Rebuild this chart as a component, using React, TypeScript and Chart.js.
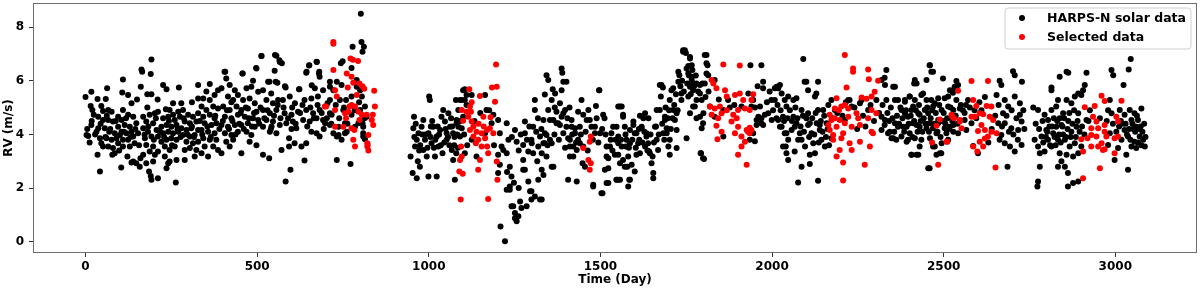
import React, { useEffect, useRef } from "react";
import { Chart, registerables } from "chart.js";

Chart.register(...registerables);

type P = [number, number];

// ---- HARPS-N solar data (day, RV m/s), by observing season ----
const harpsSeason1: P[] = [
  [0,5.4],[17,5.59],[35,5.32],[15,5.06],[20,4.91],[24,4.73],[17,4.35],[3,3.98],[8,3.94],[37,4.23],[32,4.1],[42,3.86],[46,3.67],[51,3.55],[35,3.24],[42,2.62],[37,4.66],[51,4.54],[46,5.06],[51,4.87],
  [63,5.72],[59,5.32],[66,4.91],[76,4.85],[66,4.54],[80,4.48],[56,4.23],[69,4.1],[85,4.04],[61,3.86],[76,3.8],[90,3.86],[66,3.55],[80,3.49],[78,3.24],[85,3.3],[95,4.66],[95,4.29],[100,3.98],[95,3.67],
  [109,6.05],[107,5.56],[124,5.47],[134,5.16],[109,4.91],[124,4.73],[139,4.66],[105,4.54],[114,4.35],[129,4.29],[148,4.42],[105,4.1],[119,4.04],[134,4.1],[109,3.8],[124,3.8],[139,3.92],[153,4.04],[109,3.55],[129,3.55],[143,3.67],[122,3.18],[134,2.95],[139,2.99],[104,2.77],[148,2.93],[158,2.8],[160,3.11],
  [163,6.42],[165,6.34],[192,6.79],[190,6.25],[161,5.78],[180,5.5],[192,5.5],[180,5.0],[168,4.66],[187,4.73],[202,4.79],[211,4.85],[177,4.48],[197,4.42],[168,4.23],[182,4.1],[207,4.17],[192,3.92],[173,3.86],[211,3.92],[177,3.61],[197,3.55],[187,3.36],[168,3.24],[202,3.24],[211,3.36],[177,2.93],[185,2.62],[192,2.31],[211,2.37],[197,2.99],[190,2.45],
  [226,5.84],[236,5.68],[272,5.75],[234,4.94],[245,4.91],[255,4.73],[270,4.85],[226,4.6],[241,4.66],[260,4.54],[275,4.66],[221,4.29],[236,4.35],[250,4.29],[265,4.35],[226,4.04],[241,4.1],[255,4.04],[270,4.1],[221,3.73],[236,3.8],[250,3.86],[265,3.8],[231,3.55],[245,3.42],[260,3.55],[231,3.18],[245,2.99],[236,2.74],[241,2.93],[265,3.05],[263,2.21],[255,5.16],
  [289,3.05],[289,3.42],[279,5.16],[284,4.91],[299,4.73],[313,4.66],[328,4.79],[289,4.48],[304,4.42],[323,4.48],[279,4.23],[294,4.17],[308,4.23],[328,4.17],[284,3.98],[304,3.92],[318,3.98],[294,3.73],[313,3.67],[328,3.73],[304,3.49],[323,3.42],[328,5.84],[328,5.34],[318,3.18],
  [362,5.88],[352,5.6],[343,5.34],[362,5.28],[376,5.47],[386,5.65],[338,5.04],[352,4.91],[372,5.04],[386,4.97],[343,4.66],[362,4.73],[376,4.6],[347,4.42],[367,4.35],[381,4.42],[338,4.17],[357,4.1],[376,4.04],[343,3.86],[362,3.8],[381,3.8],[338,3.3],[357,3.18],[372,3.55],[386,3.42],[347,3.55],
  [405,6.34],[410,6.09],[396,5.72],[420,5.84],[435,5.65],[415,5.41],[430,5.28],[444,5.47],[401,5.04],[420,4.91],[440,5.04],[406,4.66],[425,4.6],[444,4.73],[396,4.35],[415,4.29],[435,4.35],[406,4.04],[425,3.98],[444,4.1],[410,3.73],[430,3.8],[396,3.3],[420,3.55],
  [457,6.27],[488,6.0],[498,6.46],[469,5.72],[483,5.78],[503,5.59],[459,5.28],[478,5.34],[493,5.16],[454,4.91],[473,4.97],[498,4.85],[464,4.66],[488,4.6],[503,4.54],[454,4.35],[473,4.42],[493,4.29],[469,4.1],[483,3.98],[454,3.3],[498,3.6],[478,3.73],
  [512,6.92],[556,6.93],[566,6.7],[551,6.37],[532,5.96],[554,5.96],[517,5.65],[541,5.53],[527,5.28],[546,5.16],[561,5.28],[517,4.91],[537,4.79],[556,4.91],[527,4.54],[546,4.48],[517,4.29],[566,4.35],[537,4.1],[517,3.24],[535,3.11],[556,4.04],
  [583,5.75],[622,5.68],[575,5.28],[595,5.41],[610,5.16],[580,4.79],[600,4.73],[619,4.85],[585,4.42],[604,4.48],[571,3.42],[593,3.55],[593,3.86],[583,2.25],[597,2.68],[614,4.23],[609,3.67],
  [651,6.57],[674,6.7],[680,6.27],[682,6.15],[643,6.3],[668,5.72],[692,5.65],[638,5.28],[658,5.34],[677,5.41],[643,4.91],[663,4.79],[682,4.91],[634,4.54],[653,4.48],[673,4.6],[692,4.54],[629,3.55],[643,3.67],[638,3.03],[673,4.04],[682,3.92],[658,4.1],
  [705,5.16],[712,4.79],[698,4.42],[722,4.04],[732,3.92],[732,3.05],[772,2.9],[741,5.28],[751,4.91],[759,5.28],[737,4.29],[746,3.8],[756,4.04],[800,4.91],[805,5.41],[807,4.42],[809,3.92],[785,4.29],[775,4.73],[722,5.65],[712,5.78],[732,5.96],[775,5.41],[790,5.78],[746,5.84],
  [802,8.5],[804,7.45],[811,7.27],[807,7.08],[778,7.27],[749,6.73],[744,6.65],[775,6.48],[673,6.71],[652,6.58],[681,6.34],[644,6.34],[552,6.96],[565,6.77],[572,6.65],[513,6.92],[497,6.48],[407,6.34],[458,6.27],[536,5.96],[559,5.93],[581,5.8],[623,5.68],[659,5.83],[712,5.96],
  [712,5.28],[717,4.73],[712,4.35],[737,3.98],[756,4.42],[761,4.1],[795,4.42],[814,5.04],[809,4.29],[809,4.04],[814,3.82],[819,4.66],[790,6.03],[800,5.65],
  [5,4.2],[12,3.7],[28,4.0],[44,4.4],[58,3.9],[72,4.2],[88,4.5],[98,3.4],[112,4.1],[118,4.6],[131,3.9],[145,4.2],[156,3.6],[172,4.0],[183,4.3],[199,3.8],[205,4.6],[217,4.1],[229,3.9],[243,4.5],[252,3.6],[268,4.2],[277,3.9],[286,4.6],[297,4.0],[310,4.3],[316,3.9],[333,4.5],[340,4.0],[355,4.3],[365,3.9],[378,4.7],[390,4.2],[400,4.5],[412,4.9],[418,4.2],[428,4.5],[437,4.0],[448,4.4],[452,4.8],[461,4.2],[467,5.0],[476,4.6],[485,4.3],[491,4.8],[506,4.4],[510,5.0],[521,4.6],[530,4.9],[542,4.3],[549,4.7],[560,5.1],[568,4.6],[577,5.0],[590,4.6],[602,5.0],[612,4.4],[625,4.8],[632,5.1],[646,4.3],[655,5.0],[665,4.6],[676,5.1],[688,4.8],[694,4.2],[703,4.6],[716,4.4],[729,5.1],[739,4.6],[753,5.0],[763,4.4],[784,4.9],[797,5.2],[813,4.6],[18,4.5],[62,4.7],[150,5.3],[210,5.3],[310,5.2],[425,5.2],[540,4.2],[600,4.2]
];

const harpsSeason2: P[] = [
  [947,3.18],[953,2.56],[965,2.37],[957,4.66],[960,3.55],[955,4.23],[970,4.04],[965,3.8],[974,2.8],[979,4.29],[984,4.54],[989,3.8],[984,3.42],[994,3.18],[999,4.04],[1001,5.41],[1003,5.28],[999,2.43],[1008,3.67],[1013,4.29],[1018,3.18],[1023,2.43],[1023,3.92],[1028,3.55],[1033,4.17],[1037,4.66],[1042,4.91],[1047,4.48],[1052,4.04],[1052,3.8],[1057,4.79],[1062,4.29],[1067,3.42],[1071,3.05],[1076,2.31],[1071,4.04],[1079,5.28],[1081,4.54],[1086,4.29],[1091,5.28],[1091,3.92],[1100,5.65],[1110,5.47],[1105,5.28],[1096,5.28],[1105,5.68],[1125,5.47],[1110,5.1],[1164,5.47],[1168,4.91],[1086,4.91],[1100,4.66],[1081,4.42],[1096,4.23],[1139,3.18],[1105,3.3],[1125,3.8],[1164,4.04],[1183,4.42],[1188,4.73],
  [962,4.4],[975,3.6],[990,4.0],[1005,3.9],[1015,3.5],[1030,4.0],[1045,3.7],[1060,3.6],[1075,3.9],[1085,3.5],[968,3.0],[1010,4.5],[1040,3.3],[1065,4.6],[1080,3.3],
  [1202,4.54],[1207,4.04],[1212,3.55],[1202,3.24],[1207,2.87],[1202,2.56],[1227,4.42],[1232,3.8],[1227,3.3],[1236,2.8],[1241,2.43],[1236,1.94],[1209,0.57],[1222,0.02],[1246,1.32],[1251,0.88],[1256,0.76],[1261,0.95],[1266,1.5],[1270,1.26],[1251,1.07],[1280,4.48],[1280,4.04],[1275,3.61],[1275,3.05],[1280,2.68],[1290,2.25],[1299,1.88],[1299,1.57],[1309,1.69],[1324,1.57],[1285,1.32],[1309,5.28],[1309,4.91],[1304,4.29],[1299,3.8],[1319,3.55],[1304,3.3],[1329,2.68],[1319,2.31],[1334,4.54],[1338,4.04],[1338,3.67],[1329,3.3],[1348,4.91],[1343,6.21],[1348,6.03],[1361,5.68],[1368,5.53],[1358,5.28],[1363,4.54],[1353,3.8],[1358,2.8],[1372,4.85],[1377,4.42],[1387,6.46],[1389,6.3],[1392,5.96],[1401,5.96],[1387,5.65],[1382,5.16],[1387,4.66],[1397,4.91],[1392,4.04],[1406,3.86],[1401,4.29],[1416,4.54],[1411,3.55],[1421,3.18],[1431,2.25],[1426,4.04],[1435,3.8],[1440,4.29],[1445,5.28],[1450,4.73],[1450,3.55],[1435,4.85],[1460,4.54],[1465,4.91],[1469,4.54],[1474,4.29],[1455,2.8],[1479,2.06],[1484,4.04],[1489,4.6],[1496,5.65],[1503,1.81],[1513,2.68],[1518,3.18],[1523,2.19],[1528,3.55],[1532,4.04],[1537,4.29],[1547,2.31],[1552,5.04],[1552,3.67],
  [1217,3.42],[1251,4.17],[1256,3.73],[1275,2.68],[1290,3.36],[1300,3.67],[1324,3.92],[1334,3.67],[1343,3.98],[1338,5.49],[1353,4.54],[1372,4.42],[1382,4.35],[1392,4.79],[1411,3.8],[1416,4.29],[1426,4.23],[1421,3.55],[1411,3.18],[1431,3.42],[1440,3.67],[1448,2.93],[1406,2.31],[1363,2.8],[1343,3.18],[1334,2.49],[1329,1.57],[1358,3.67],[1227,1.94],[1241,1.32],[1236,2.06],[1295,1.88],
  [958,3.9],[972,3.4],[981,4.0],[996,3.5],[1006,4.3],[1019,3.8],[1026,4.3],[1035,3.6],[1049,4.2],[1056,3.9],[1068,4.3],[1074,3.6],[1083,4.0],[1092,4.5],[1103,4.0],[1112,3.6],[1133,4.5],[1150,4.8],[1176,4.9],[1190,3.6],[1242,3.9],[1262,3.4],[1268,4.0],[1286,3.8],[1293,4.3],[1313,4.1],[1316,3.0],[1328,4.2],[1346,3.6],[1366,4.0],[1379,3.8],[1397,3.5],[1404,4.6],[1418,4.0],[1429,3.7],[1443,4.0],[1457,4.1],[1463,3.4],[1478,3.8],[1494,3.7],[1505,4.2],[1515,4.0],[1535,3.4],[1544,3.8],[1318,4.6],[1367,5.0],[1410,5.0],[1228,2.6],[1248,2.2],[1262,2.0]
];

const harpsSeason3: P[] = [
  [1479,2.12],[1506,1.81],[1497,5.65],[1487,5.06],[1484,4.29],[1499,4.04],[1508,4.73],[1512,4.6],[1518,3.55],[1523,3.11],[1523,2.74],[1518,2.19],[1530,3.8],[1542,3.24],[1547,2.31],[1557,2.31],[1566,4.66],[1562,5.04],[1571,4.29],[1574,3.55],[1566,3.05],[1578,2.8],[1584,2.31],[1581,2.06],[1586,3.67],[1596,4.35],[1600,4.04],[1605,3.24],[1613,3.8],[1620,4.23],[1625,4.6],[1630,3.55],[1634,3.92],[1642,3.36],[1652,3.18],[1664,4.91],[1673,5.84],[1676,5.41],[1688,4.54],[1693,4.23],[1683,4.04],[1702,3.8],[1702,3.24],[1712,5.72],[1722,4.79],[1730,6.21],[1736,5.53],[1741,7.14],[1749,7.04],[1751,6.46],[1756,6.55],[1761,6.83],[1766,6.15],[1770,5.9],[1761,5.78],[1756,5.41],[1751,3.86],[1761,4.79],[1770,5.04],[1780,5.28],[1790,4.66],[1792,3.3],[1799,3.11],[1809,6.96],[1809,6.65],[1814,6.21],[1804,5.9],[1790,5.53],[1780,5.9],
  [1557,5.04],[1566,4.73],[1547,4.29],[1552,3.92],[1562,3.55],[1552,3.24],[1557,2.93],[1552,2.31],[1586,2.31],[1571,2.8],[1581,3.18],[1591,2.87],[1600,2.62],[1576,3.8],[1586,4.17],[1596,4.48],[1605,4.04],[1610,3.67],[1615,3.3],[1620,4.29],[1630,4.79],[1634,4.04],[1639,3.67],[1644,3.3],[1649,2.93],[1654,2.56],[1654,2.37],[1659,4.29],[1664,3.8],[1668,3.42],[1673,4.91],[1678,5.84],[1682,5.75],[1688,4.66],[1693,4.04],[1698,3.55],[1702,5.28],[1707,5.65],[1712,4.91],[1717,4.54],[1722,4.17],[1722,3.49],[1727,5.96],[1727,6.34],[1736,5.28],[1741,7.08],[1746,7.14],[1756,6.27],[1761,6.89],[1766,6.58],[1766,6.03],[1770,5.65],[1775,5.04],[1780,4.6],[1790,5.84],[1795,5.28],[1800,4.79],[1793,3.3],[1802,3.08],[1804,6.96],[1812,6.58],[1809,6.27],[1795,4.23],
  [1833,6.03],[1819,5.04],[1833,4.66],[1858,4.91],[1872,5.28],[1931,5.53],[1940,5.04],[1960,4.66],[1955,4.35],[1945,4.04],[1969,4.42],[1979,4.73],[1911,5.04],[1799,4.42],[1858,3.92],[1937,6.58],[1969,6.58],[1974,5.96],[1945,5.28],[1965,5.04],[1969,4.6],[1955,4.54],[1974,4.35],[1935,3.8],[1950,3.75],
  [1998,5.28],[2008,5.72],[2013,5.78],[2023,5.84],[2028,5.53],[2037,5.28],[2042,5.04],[2032,4.66],[2042,4.04],[2040,3.55],[2023,4.29],[2013,4.6],[1974,5.72],[1989,4.79],[1999,4.54],[2008,5.28],[2018,5.72],[2047,5.41],[2062,5.28],[2071,5.35],[2086,4.91],[2091,6.81],[2100,5.96],[2105,5.65],[2125,5.41],[2134,5.96],[2149,4.91],[2164,5.1],[2018,4.54],[2028,4.29],[2037,4.04],[2047,3.8],[2032,3.55],[2042,3.3],[2047,3.05],[2057,4.17],[2071,4.42],[2081,4.04],[2086,3.8],[2096,3.55],[2105,4.35],[2115,4.04],[2120,3.67],[2125,3.3],[2110,3.24],[2130,4.42],[2139,4.17],[2144,3.8],[2154,3.55],[2076,2.21],[2134,2.27],[2110,2.9],[2086,2.8],[2066,3.36],[2062,4.66],[2066,4.29],[2076,3.8],[2095,5.96],[2105,4.79],[2110,4.42],[2129,5.53],[2134,4.91],[2139,4.35],[2159,4.42],[2173,3.86],
  [1560,3.8],[1573,4.0],[1583,3.5],[1593,3.8],[1603,3.5],[1612,4.2],[1622,3.7],[1628,4.1],[1637,3.4],[1646,4.0],[1656,3.7],[1662,4.3],[1670,4.0],[1680,4.4],[1686,3.8],[1696,4.6],[1705,4.2],[1710,4.6],[1715,5.1],[1720,5.5],[1725,4.9],[1733,5.8],[1738,6.0],[1743,5.6],[1753,5.9],[1758,6.2],[1763,5.5],[1768,6.4],[1773,5.8],[1778,6.2],[1785,5.6],[1797,5.9],[1806,5.4],[1815,5.6],[1845,5.3],[1877,5.0],[1890,5.1],[1950,5.0],[1958,5.8],[1985,5.2],[1993,5.6],[2003,4.9],[2016,5.1],[2025,4.9],[2035,4.5],[2045,4.6],[2052,4.9],[2058,4.5],[2068,5.0],[2074,4.6],[2083,4.3],[2090,4.7],[2093,4.1],[2100,4.6],[2108,3.9],[2117,4.6],[2123,4.0],[2127,4.8],[2136,3.7],[2142,4.5],[2147,4.1],[2152,4.7],[2157,3.9],[2162,4.2],[2166,3.6],[1640,4.6],[1615,4.7],[1690,5.0],[1700,4.9]
];

const harpsSeason4: P[] = [
  [2173,5.28],[2183,4.91],[2222,5.28],[2212,4.54],[2232,5.04],[2261,5.28],[2280,4.91],[2304,5.28],[2319,6.03],[2333,6.4],[2329,5.84],[2358,5.78],[2367,5.28],[2377,4.91],[2387,5.28],[2396,4.66],[2319,4.17],[2338,4.04],[2348,3.86],[2367,4.29],[2377,3.92],[2392,3.73],[2329,4.54],[2358,4.42],[2226,5.28],[2256,5.16],[2328,6.11],[2353,5.78],[2358,5.28],[2333,5.28],[2319,4.66],[2328,4.35],[2343,4.1],[2353,3.86],[2362,3.8],[2382,4.29],[2387,5.22],[2401,5.41],[2416,6.03],[2421,5.9],[2411,5.04],[2430,4.73],[2421,4.35],[2401,4.04],[2406,3.24],[2421,3.24],[2430,3.55],[2440,5.53],[2450,5.28],[2459,6.58],[2469,6.34],[2450,6.03],[2455,4.79],[2459,4.42],[2459,2.74],[2474,5.16],[2484,4.54],[2479,4.04],[2493,3.3],[2498,6.09],[2503,5.35],[2469,3.55],[2518,5.65],[2532,5.72],[2537,5.28],[2528,4.91],[2518,4.29],[2528,4.1],[2547,4.97],[2561,4.8],[2508,4.04],[2566,4.17],[2571,5.28],
  [2464,6.34],[2460,6.58],[2414,5.9],[2537,5.99],[2542,5.84],[2401,5.41],[2416,5.28],[2435,5.47],[2464,5.28],[2484,5.35],[2513,5.41],[2532,5.78],[2527,5.55],[2387,4.79],[2406,4.91],[2426,4.79],[2445,4.91],[2469,5.04],[2494,4.91],[2513,5.04],[2392,4.29],[2411,4.42],[2430,4.29],[2450,4.23],[2469,4.23],[2484,4.42],[2503,4.23],[2528,4.35],[2396,3.8],[2416,3.86],[2435,3.8],[2460,3.86],[2474,3.55],[2494,3.67],[2406,3.24],[2426,3.24],[2479,3.24],[2489,3.3],[2455,2.74],[2513,3.8],[2542,4.04],[2561,4.54],[2581,4.42],[2586,3.57],[2600,3.3],
  [2663,6.0],[2668,5.84],[2702,6.36],[2707,6.21],[2728,5.96],[2654,5.47],[2678,5.28],[2688,5.04],[2673,4.79],[2707,5.41],[2722,5.16],[2722,4.73],[2727,4.48],[2659,4.42],[2678,4.42],[2697,4.23],[2668,3.98],[2663,3.8],[2678,3.67],[2693,3.55],[2707,3.36],[2727,3.61],[2686,2.8],[2717,4.17],[2610,4.9],[2620,5.4],[2640,4.2],[2595,4.6],[2630,3.7],
  [2176,4.6],[2190,4.8],[2205,4.7],[2215,5.2],[2240,5.0],[2248,4.2],[2265,4.7],[2272,4.3],[2287,5.1],[2297,4.5],[2312,4.8],[2322,5.1],[2336,4.8],[2341,4.5],[2346,5.0],[2351,4.6],[2356,4.1],[2364,4.7],[2370,4.4],[2374,5.0],[2380,4.6],[2385,4.1],[2390,4.9],[2398,4.4],[2404,4.7],[2409,3.9],[2414,4.5],[2419,4.9],[2424,4.1],[2428,5.1],[2433,4.5],[2438,4.1],[2442,4.6],[2447,4.4],[2452,5.0],[2457,4.1],[2462,4.6],[2467,4.9],[2472,4.4],[2477,4.8],[2482,4.1],[2487,5.1],[2491,3.9],[2496,4.5],[2500,4.8],[2505,4.4],[2510,4.6],[2515,4.2],[2520,5.0],[2525,4.5],[2535,4.7],[2540,4.4],[2550,5.1],[2556,4.9],[2565,5.1],[2576,5.0],[2590,4.9],[2604,5.2],[2650,4.7],[2660,5.1],[2670,4.3],[2683,4.7],[2690,4.1],[2698,4.9],[2703,4.0],[2712,4.6],[2716,3.8],[2732,4.9],[2735,4.2]
];

const harpsSeason5: P[] = [
  [2761,5.0],[2775,4.91],[2765,3.8],[2775,3.55],[2785,3.92],[2780,3.3],[2780,2.8],[2775,2.25],[2773,2.06],[2794,4.73],[2804,4.54],[2814,5.75],[2814,5.65],[2814,4.91],[2799,4.17],[2804,3.8],[2794,3.36],[2814,3.55],[2819,4.04],[2833,5.28],[2828,5.04],[2838,6.15],[2858,6.34],[2863,6.3],[2828,4.29],[2833,3.8],[2838,3.3],[2833,2.8],[2843,3.0],[2853,2.8],[2862,2.56],[2862,2.06],[2877,2.19],[2892,2.25],[2843,4.35],[2848,4.79],[2858,5.28],[2872,5.16],[2882,5.41],[2892,5.53],[2901,5.47],[2906,5.65],[2911,5.84],[2916,6.3],[2853,3.8],[2867,3.55],[2872,4.1],[2882,3.67],[2892,3.3],[2901,3.55],[2877,3.18],[2858,3.24],[2887,4.29],[2892,4.79],[2916,4.54],[2808,4.3],[2823,3.9],[2848,4.0],[2838,4.6],[2863,4.5],
  [2989,6.4],[2994,6.21],[2979,4.9],[2989,4.79],[2984,5.28],[3024,5.84],[3039,6.42],[3045,6.81],[3013,4.91],[3027,4.73],[3042,4.91],[3056,4.79],[3076,4.97],[3047,4.54],[3066,4.54],[3061,4.29],[3027,4.17],[3018,3.8],[3037,3.92],[3056,3.73],[3071,3.92],[3081,3.8],[3086,3.55],[3061,3.49],[3047,3.55],[3032,3.24],[3037,2.68],[3008,3.49],[2979,3.61],[2998,3.05],[2984,4.04],[3052,4.2],[3066,3.7],[3076,3.6],
  [2768,4.4],[2778,4.2],[2788,4.5],[2790,3.7],[2798,3.9],[2802,4.1],[2810,3.6],[2816,4.3],[2821,4.6],[2826,3.6],[2831,4.5],[2836,4.0],[2841,3.7],[2846,4.3],[2851,4.6],[2856,3.9],[2861,4.2],[2866,4.8],[2870,3.9],[2875,4.4],[2880,4.9],[2885,3.9],[2890,4.5],[2896,4.1],[2903,4.3],[2910,4.0],[2922,4.5],[2926,4.9],[2955,4.6],[2975,4.5],[2993,4.4],[3003,4.1],[3011,4.3],[3016,4.5],[3022,4.4],[3030,4.4],[3034,4.0],[3040,4.2],[3044,3.8],[3050,4.4],[3058,4.1],[3063,4.7],[3069,4.2],[3074,4.3],[3079,4.1],[3084,4.4],[3088,3.9]
];

// ---- Selected data (red) ----
const selected1: P[] = [
  [697,5.04],[722,7.45],[722,7.38],[722,6.4],[727,5.65],[701,5.04],[727,4.29],[761,6.27],[772,6.83],[779,6.78],[794,6.74],[764,5.75],[780,5.93],[798,5.9],[807,5.8],[841,5.63],[812,5.7],[769,5.04],[775,5.1],[785,5.04],[795,4.85],[805,4.73],[819,4.73],[843,5.04],[837,4.73],[834,4.54],[838,4.35],[824,3.98],[821,3.67],[821,3.55],[780,3.8],[785,3.55],[775,4.23],[798,4.54],[759,4.6],[766,4.85],[727,4.91],[822,3.61],[824,3.4],[783,4.17],[751,4.29],[756,4.79],[775,6.15],[790,5.47],[732,5.41]
];
const selected2: P[] = [
  [1118,5.68],[1149,5.43],[1184,5.75],[1198,5.78],[1196,6.61],[1193,5.22],[1096,4.91],[1120,5.04],[1123,4.85],[1115,4.66],[1100,4.51],[1125,4.48],[1159,4.66],[1180,4.64],[1120,4.17],[1139,4.1],[1154,4.04],[1170,4.17],[1178,4.23],[1188,4.04],[1130,3.92],[1144,3.8],[1164,3.86],[1137,3.67],[1154,3.55],[1170,3.55],[1173,3.3],[1149,3.05],[1144,2.68],[1094,3.55],[1096,3.18],[1091,3.05],[1089,2.62],[1099,2.53],[1198,2.99],[1200,2.31],[1093,1.57],[1173,1.59],[1110,4.85],[1130,4.3],[1160,4.3],[1145,4.4],[1125,5.2]
];
const selected3: P[] = [[1472,3.92],[1469,3.73],[1450,3.49],[1465,3.05],[1472,2.93],[1469,2.68]];
const selected4: P[] = [
  [1858,6.61],[1906,6.57],[1824,6.03],[1829,5.9],[1838,5.72],[1863,5.65],[1868,5.41],[1892,5.47],[1906,5.53],[1916,5.28],[1945,5.5],[1819,5.04],[1833,4.97],[1848,5.04],[1853,4.79],[1868,4.9],[1887,4.73],[1901,4.91],[1921,4.97],[1935,4.91],[1940,5.28],[1824,4.73],[1843,4.6],[1882,4.48],[1897,4.6],[1901,4.29],[1926,4.17],[1935,4.04],[1940,4.17],[1838,4.32],[1853,4.1],[1892,4.04],[1911,3.92],[1921,3.73],[1911,3.55],[1901,3.24],[1841,3.82],[1926,2.87],[1930,4.1],[1935,4.25]
];
const selected5: P[] = [
  [2212,6.96],[2236,6.46],[2236,6.34],[2280,6.42],[2282,6.06],[2309,6.0],[2217,5.75],[2188,5.35],[2202,5.04],[2183,4.97],[2212,5.1],[2261,5.38],[2275,5.33],[2290,5.41],[2299,5.59],[2168,4.73],[2183,4.6],[2197,4.54],[2222,4.66],[2246,4.79],[2251,4.6],[2290,4.91],[2304,4.79],[2164,4.35],[2188,4.29],[2212,4.42],[2232,4.29],[2256,4.35],[2280,4.6],[2168,4.17],[2178,3.98],[2207,4.04],[2290,4.1],[2294,4.04],[2202,3.86],[2178,3.8],[2226,3.67],[2256,3.73],[2285,3.55],[2197,3.42],[2232,3.42],[2188,3.18],[2207,2.95],[2270,2.87],[2207,2.28],[2173,4.54],[2195,4.9],[2222,4.97]
];
const selected6: P[] = [
  [2581,5.99],[2629,5.99],[2542,5.63],[2586,5.28],[2595,5.06],[2625,5.06],[2639,5.04],[2489,4.56],[2479,4.32],[2523,4.73],[2530,4.6],[2547,4.54],[2552,4.23],[2581,4.66],[2605,4.79],[2615,4.75],[2634,4.66],[2644,4.54],[2610,4.35],[2620,4.17],[2639,4.1],[2654,4.04],[2600,4.13],[2629,3.92],[2605,3.73],[2615,3.55],[2620,3.85],[2598,3.36],[2466,3.7],[2511,3.73],[2484,2.87],[2651,2.77],[2547,4.48],[2508,3.73],[2591,4.66],[2586,3.55],[2525,4.66]
];
const selected7: P[] = [
  [2960,5.44],[2969,5.25],[3018,5.26],[2911,5.01],[2940,5.06],[2935,4.66],[2945,4.48],[2930,4.23],[2950,4.23],[2969,4.35],[3003,4.66],[3008,4.48],[2930,3.98],[2945,3.92],[2969,4.1],[2974,3.92],[2998,3.86],[3008,3.92],[2960,3.67],[2950,3.55],[2964,3.42],[2930,3.55],[2906,3.36],[2998,3.3],[2969,3.45],[2906,2.37],[2955,2.74],[2919,3.86],[2901,3.82]
];

const xTicks = [0, 500, 1000, 1500, 2000, 2500, 3000];
const yTicks = [0, 2, 4, 6, 8];
const xTitle = "Time (Day)";
const yTitle = "RV (m/s)";
const harpsLabel = "HARPS-N solar data";
const selectedLabel = "Selected data";

const FONT = "'DejaVu Sans', sans-serif";
const toXY = (arr: P[]) => arr.map(([x, y]) => ({ x, y }));

const framePlugin = {
  id: "frameAndLegend",
  afterDraw(chart: any) {
    const { ctx, chartArea: a } = chart;
    ctx.save();
    ctx.strokeStyle = "#6f6f6f";
    ctx.lineWidth = 1;
    ctx.strokeRect(a.left + 0.5, a.top + 0.5, a.right - a.left - 1, a.bottom - a.top - 1);

    // legend box (upper right)
    const bw = 186, bh = 41;
    const bx = a.right - 6 - bw, by = a.top + 5;
    const r = 3;
    ctx.beginPath();
    ctx.moveTo(bx + r, by);
    ctx.lineTo(bx + bw - r, by);
    ctx.quadraticCurveTo(bx + bw, by, bx + bw, by + r);
    ctx.lineTo(bx + bw, by + bh - r);
    ctx.quadraticCurveTo(bx + bw, by + bh, bx + bw - r, by + bh);
    ctx.lineTo(bx + r, by + bh);
    ctx.quadraticCurveTo(bx, by + bh, bx, by + bh - r);
    ctx.lineTo(bx, by + r);
    ctx.quadraticCurveTo(bx, by, bx + r, by);
    ctx.closePath();
    ctx.fillStyle = "rgba(255,255,255,0.8)";
    ctx.fill();
    ctx.strokeStyle = "#d0d0d0";
    ctx.stroke();

    const ds = chart.data.datasets;
    const rows = [ds[1], ds[0]];
    rows.forEach((d: any, i: number) => {
      const cy = by + 10 + i * 19;
      ctx.beginPath();
      ctx.arc(bx + 17, cy, 3, 0, Math.PI * 2);
      ctx.fillStyle = d.backgroundColor;
      ctx.fill();
      ctx.fillStyle = "#000";
      ctx.font = `bold 12.5px ${FONT}`;
      ctx.textBaseline = "middle";
      ctx.textAlign = "left";
      ctx.fillText(d.label, bx + 42, cy + 1);
    });
    ctx.restore();
  },
};

export default function App() {
  const ref = useRef<HTMLCanvasElement>(null);
  useEffect(() => {
    const harps = [...harpsSeason1, ...harpsSeason2, ...harpsSeason3, ...harpsSeason4, ...harpsSeason5];
    const selected = [...selected1, ...selected2, ...selected3, ...selected4, ...selected5, ...selected6, ...selected7];
    const tickFont = { family: FONT, weight: "bold" as const, size: 12 };
    const chart = new Chart(ref.current!, {
      type: "scatter",
      data: {
        datasets: [
          {
            label: selectedLabel,
            data: toXY(selected),
            backgroundColor: "#ff0000",
            borderWidth: 0,
            pointRadius: 3,
            pointHoverRadius: 3,
            order: 1,
          },
          {
            label: harpsLabel,
            data: toXY(harps),
            backgroundColor: "#000000",
            borderWidth: 0,
            pointRadius: 3,
            pointHoverRadius: 3,
            order: 2,
          },
        ],
      },
      options: {
        animation: false,
        responsive: false,
        devicePixelRatio: 1,
        layout: { padding: { top: 3, right: 3, left: 0, bottom: 0 } },
        plugins: { legend: { display: false }, tooltip: { enabled: false } },
        scales: {
          x: {
            type: "linear",
            min: -153,
            max: 3238,
            afterBuildTicks: (s: any) => { s.ticks = xTicks.map((v) => ({ value: v })); },
            afterFit: (s: any) => { s.height = 35; s.paddingLeft = 0; s.paddingRight = 0; s.paddingTop = 0; s.paddingBottom = 0; },
            ticks: { font: tickFont, color: "#000", padding: 3, maxRotation: 0, autoSkip: false, callback: (v: any) => String(v) },
            grid: { drawOnChartArea: false, drawTicks: true, tickLength: 4, color: "#333" },
            border: { display: false },
            title: { display: true, text: xTitle, font: tickFont, color: "#000", padding: { top: 0, bottom: 1 } },
          },
          y: {
            type: "linear",
            min: -0.42,
            max: 8.9,
            afterBuildTicks: (s: any) => { s.ticks = yTicks.map((v) => ({ value: v })); },
            afterFit: (s: any) => { s.width = 33; s.paddingTop = 0; s.paddingBottom = 0; s.paddingLeft = 0; s.paddingRight = 0; },
            ticks: { font: tickFont, color: "#000", padding: 5, autoSkip: false, callback: (v: any) => String(v) },
            grid: { drawOnChartArea: false, drawTicks: true, tickLength: 4, color: "#333" },
            border: { display: false },
            title: { display: true, text: yTitle, font: tickFont, color: "#000", padding: { top: 2, bottom: 0 } },
          },
        },
      },
      plugins: [framePlugin],
    });
    return () => chart.destroy();
  }, []);
  return (
    <div style={{ position: "absolute", left: 0, top: 0, width: 1200, height: 288 }}>
      <canvas ref={ref} width={1200} height={288} style={{ display: "block" }} />
    </div>
  );
}
